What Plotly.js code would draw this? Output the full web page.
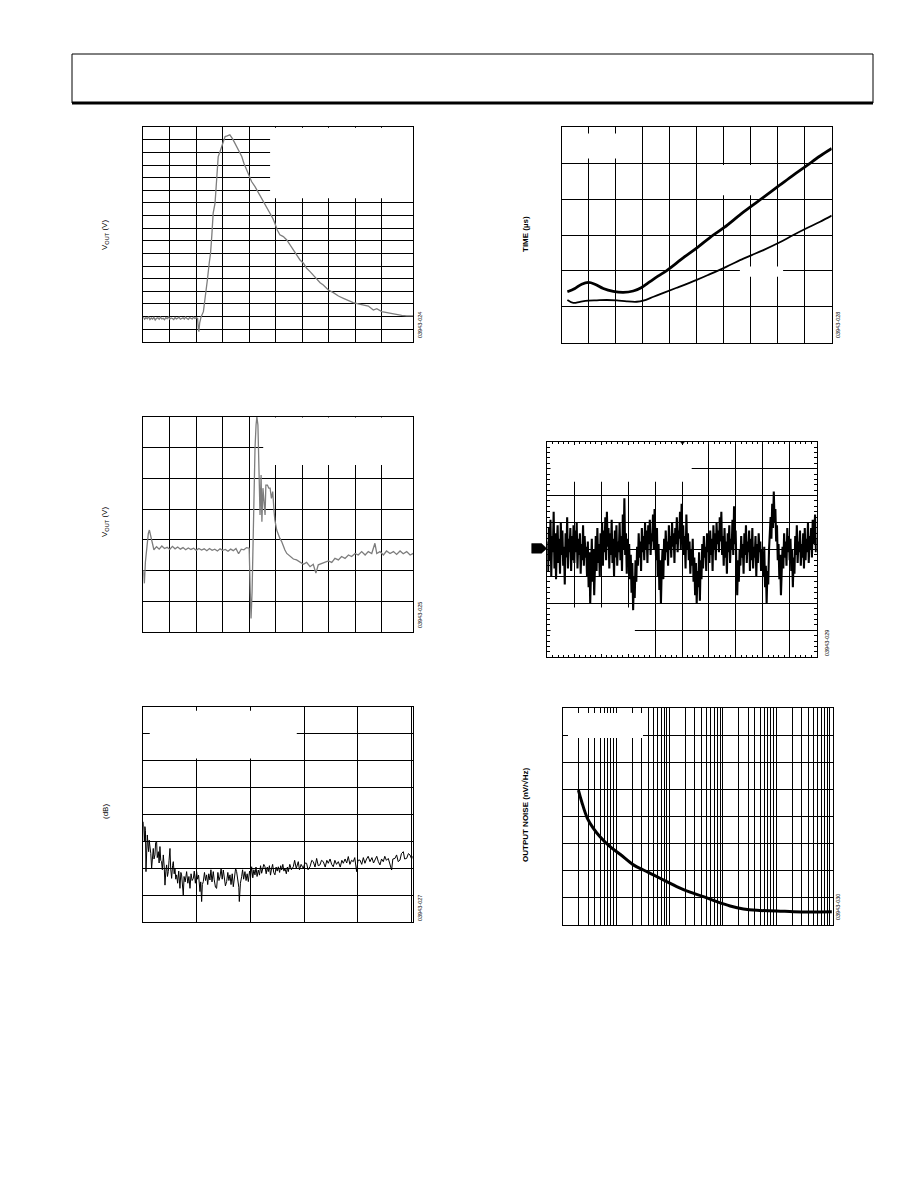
<!DOCTYPE html>
<html>
<head>
<meta charset="utf-8">
<script src="https://cdn.plot.ly/plotly-3.0.1.min.js"></script>
<style>html,body{margin:0;padding:0;background:#fff;}#chart{width:918px;height:1188px;}</style>
</head>
<body>
<div id="chart"></div>
<script>
// ---------- DATA ----------
// Chart A: VOUT transient (gray)
const aX = [0,0.05,0.1,0.15,0.2,0.25,0.3,0.35,0.4,0.45,0.5,0.55,0.6,0.65,0.7,0.75,0.8,0.85,0.9,0.95,1.0,1.05,1.1,1.15,1.2,1.25,1.3,1.35,1.4,1.45,1.5,1.55,1.6,1.65,1.7,1.75,1.8,1.85,1.9,1.95,2.0,
  2.05,2.08,2.1,2.13,2.18,2.27,2.37,2.42,2.49,2.54,2.59,2.64,2.71,2.77,2.83,2.90,3.00,3.09,3.17,3.27,3.38,3.46,3.59,3.72,3.80,3.90,4.00,4.09,4.22,4.35,4.47,4.56,4.66,4.79,4.89,4.97,5.06,5.16,5.29,5.42,5.54,5.67,5.79,5.92,6.05,6.17,6.30,6.42,6.55,6.68,6.80,6.99,7.18,7.37,7.56,7.75,7.93,8.12,8.31,8.50,8.69,8.82,9.01,9.19,9.38,9.57,9.76,9.95,10.2];
const aY = [1.95,1.78,1.9,1.82,1.98,1.75,1.88,1.8,1.93,1.72,1.85,1.9,1.78,1.95,1.8,1.86,1.74,1.9,1.83,1.97,1.79,1.88,1.84,1.76,1.92,1.81,1.87,1.94,1.78,1.85,1.9,1.8,1.96,1.83,1.77,1.91,1.86,1.8,1.94,1.85,1.9,
  1.85,1.0,0.8,1.5,1.95,2.38,3.84,4.89,6.22,7.01,8.47,10.19,10.98,12.57,14.68,15.08,15.74,16.27,16.32,16.40,16.06,15.74,15.21,14.68,14.15,13.62,13.23,12.70,12.30,11.82,11.38,10.98,10.58,10.13,9.79,9.39,8.86,8.47,8.33,8.07,7.67,7.28,6.88,6.48,6.22,5.82,5.56,5.29,4.95,4.68,4.50,4.10,3.89,3.62,3.44,3.25,3.10,2.99,2.88,2.83,2.51,2.62,2.38,2.30,2.25,2.14,2.09,2.04,2.04];

// Chart B: VOUT transient with glitch (gray)
const bX = [0,0.04,0.08,0.13,0.19,0.23,0.28,0.33,0.38,
  0.4,0.5,0.6,0.7,0.8,0.9,1.0,1.1,1.2,1.3,1.4,1.5,1.6,1.7,1.8,1.9,2.0,2.1,2.2,2.3,2.4,2.5,2.6,2.7,2.8,2.9,3.0,3.1,3.2,3.3,3.4,3.5,3.6,3.7,3.8,3.9,
  4.0,4.04,4.07,4.11,4.14,4.18,4.22,4.26,4.29,4.33,4.37,4.41,4.45,4.48,4.52,4.56,4.60,4.63,4.69,4.74,4.79,4.84,4.89,4.94,4.97,5.04,5.10,5.16,5.23,5.29,5.35,5.42,5.54,5.67,5.79,5.92,6.05,6.17,6.30,6.42,6.52,6.61,6.74,6.86,6.99,7.12,7.24,7.37,7.49,7.62,7.75,7.87,8.0,8.12,8.25,8.38,8.50,8.63,8.75,8.82,8.94,9.07,9.19,9.32,9.45,9.57,9.70,9.82,9.95,10.08,10.2];
const bY = [2.02,1.59,2.29,2.84,3.21,3.32,3.11,2.89,2.73,
  2.68,2.78,2.70,2.80,2.72,2.76,2.69,2.79,2.71,2.77,2.70,2.75,2.68,2.74,2.69,2.73,2.66,2.72,2.67,2.71,2.65,2.72,2.66,2.70,2.64,2.71,2.66,2.69,2.63,2.70,2.65,2.72,2.55,2.70,2.68,2.75,
  2.73,1.32,0.45,1.32,2.84,4.68,5.97,6.73,7.0,6.73,5.54,3.81,5.11,3.59,4.68,4.13,3.81,4.78,4.78,4.68,4.68,4.35,4.57,3.92,3.65,3.32,3.16,3.05,2.94,2.78,2.67,2.56,2.46,2.38,2.35,2.29,2.21,2.27,2.13,2.21,1.92,2.19,2.24,2.29,2.32,2.27,2.40,2.35,2.46,2.40,2.51,2.46,2.56,2.51,2.62,2.51,2.62,2.56,2.89,2.56,2.62,2.51,2.64,2.56,2.62,2.53,2.64,2.55,2.62,2.51,2.56];

// Chart C: (dB) vs frequency (black)
const cX = [0,0.01,0.02,0.03,0.04,0.05,0.06,0.075,0.09,0.10,0.11,0.124,0.14,0.155,0.17,0.186,0.20,0.217,0.23,0.248,0.26,0.28,0.295,0.31,0.325,0.34,0.355,0.373,0.39,0.404,0.42,0.435,0.45,0.466,0.48,0.497,0.51,0.528,0.545,0.559,0.575,0.59,0.605,0.621,0.64,0.66,0.683,0.70,0.714,0.73,0.745,0.76,0.78,0.807,0.83,0.85,0.87,0.89,0.91,0.932,0.95,0.97,0.994,1.01,1.03,1.056,1.07,1.087,1.10,1.118,1.14,1.16,1.18,1.20,1.22,1.242,1.26,1.28,1.304,1.32,1.345,1.366,1.39,1.41,1.429,1.45,1.47,1.491,1.51,1.53,1.553,1.575,1.595,1.615,1.635,1.657,1.677,1.70,1.72,1.739,1.76,1.78,1.789,1.81,1.832,1.85,1.87,1.894,1.915,1.935,1.957,1.98,2.00,2.019,2.04,2.06,2.081,2.10,2.12,2.143,2.165,2.185,2.205,2.225,2.245,2.267,2.29,2.31,2.329,2.35,2.37,2.391,2.41,2.43,2.453,2.475,2.495,2.516,2.54,2.56,2.578,2.60,2.62,2.64,2.665,2.685,2.702,2.73,2.76,2.795,2.82,2.85,2.888,2.91,2.94,2.981,3.01,3.043,3.07,3.106,3.14,3.168,3.20,3.23,3.26,3.292,3.32,3.354,3.39,3.42,3.447,3.48,3.51,3.54,3.57,3.60,3.634,3.67,3.70,3.727,3.76,3.79,3.82,3.85,3.88,3.913,3.94,3.975,4.00,4.037,4.07,4.10,4.13,4.16,4.19,4.224,4.26,4.29,4.317,4.35,4.38,4.41,4.44,4.472,4.50,4.53,4.565,4.59,4.627,4.65,4.689,4.72,4.75,4.783,4.81,4.845,4.87,4.907,4.94,4.969,5.00,5.02];
const cY = [3.73,3.30,2.99,3.55,3.40,1.88,3.10,3.24,2.80,2.62,3.05,2.81,2.55,2.00,2.60,2.74,2.35,2.50,2.95,2.99,2.40,2.62,2.20,2.81,2.30,2.25,1.95,2.50,2.05,1.38,1.90,2.13,1.70,1.88,2.30,2.74,2.00,1.63,2.10,2.25,1.80,2.00,1.60,1.76,1.45,1.90,1.26,1.85,1.76,1.40,1.01,1.70,1.50,1.88,1.45,1.70,1.26,1.80,1.55,1.63,1.90,1.45,1.88,1.60,1.75,1.14,1.50,0.77,1.40,1.51,1.85,1.55,1.76,1.40,1.80,1.57,1.95,1.50,1.88,1.60,1.30,1.26,1.85,1.55,1.69,2.00,1.60,1.94,1.70,1.35,1.51,1.85,1.55,1.76,1.40,1.80,1.32,1.75,2.00,1.88,1.50,1.30,0.77,1.45,1.69,1.95,1.60,1.88,1.55,1.80,1.51,1.90,1.70,2.06,1.65,1.95,1.76,2.05,1.70,1.94,1.75,2.10,1.82,1.95,2.15,2.06,1.80,2.05,1.88,2.10,1.75,2.00,2.15,1.85,1.76,2.05,1.90,2.06,1.85,2.10,1.94,2.15,1.90,2.00,1.80,2.05,1.88,2.15,1.95,2.06,2.30,2.00,2.25,1.95,2.15,2.00,2.20,2.19,1.95,2.06,2.30,2.25,2.05,2.37,2.10,2.13,2.30,2.25,2.05,2.30,2.19,2.35,2.15,2.06,2.30,2.15,2.25,2.05,2.30,2.19,2.35,2.20,2.44,2.15,2.30,2.25,2.40,1.88,2.30,2.31,2.15,2.40,2.19,2.35,2.45,2.25,2.40,2.20,2.31,2.45,2.25,2.13,2.35,2.25,2.45,2.30,2.37,2.20,1.94,2.35,2.37,2.50,2.25,2.31,2.55,2.62,2.35,2.37,2.55,2.50,2.35,2.45];

// Chart D: TIME (µs) — two curves
const dTopX = [0.21,0.49,0.74,0.99,1.23,1.54,1.91,2.28,2.65,2.96,3.27,3.58,3.89,4.51,5.02,5.49,6.02,6.60,7.04,7.47,8.06,8.58,9.05,9.57,10.0];
const dTopY = [1.42,1.51,1.63,1.68,1.63,1.51,1.43,1.40,1.44,1.54,1.70,1.86,2.01,2.37,2.65,2.93,3.21,3.56,3.81,4.05,4.38,4.67,4.92,5.20,5.41];
const dLowX = [0.21,0.43,0.68,0.99,1.30,1.67,2.04,2.41,2.78,3.02,3.40,3.77,4.26,5.00,5.49,6.11,6.73,7.04,7.47,8.06,8.58,9.05,9.57,10.0];
const dLowY = [1.19,1.11,1.14,1.17,1.18,1.19,1.18,1.15,1.14,1.17,1.28,1.39,1.53,1.75,1.91,2.12,2.34,2.44,2.58,2.79,3.00,3.18,3.37,3.54];

// Chart E: noise (divisions), evenly sampled over 10 horizontal divisions
const eY = [
4.3,3.2,4.8,3.6,5.1,3.0,4.5,3.9,5.4,3.3,4.6,2.9,4.2,4.9,3.5,4.4,3.1,5.0,3.8,4.7,3.4,4.1,2.7,4.6,3.7,5.2,3.3,4.4,3.9,4.8,3.2,4.5,3.6,4.9,
3.5,4.7,3.9,5.0,3.3,4.4,3.8,4.6,3.1,4.2,3.6,4.9,3.4,4.5,3.7,4.1,3.0,4.3,2.6,3.9,2.0,3.6,4.4,2.8,4.0,2.3,3.7,4.5,3.2,4.8,3.5,4.2,3.0,4.6,
3.8,5.0,3.4,4.7,3.9,5.2,3.6,5.4,4.1,4.8,3.3,4.6,3.8,5.1,3.5,4.4,3.0,4.7,3.7,4.9,3.4,4.3,3.9,5.0,3.6,4.5,3.2,5.3,4.0,5.9,3.8,4.6,3.1,4.4,
3.5,4.2,2.9,3.8,2.4,3.5,1.75,3.0,2.2,3.6,2.8,4.1,3.4,4.6,3.7,4.3,3.2,4.8,3.9,4.5,3.6,5.0,4.0,4.7,3.5,4.9,4.2,5.1,3.8,4.6,4.3,5.3,4.0,5.5,
4.4,3.6,4.8,3.0,4.2,2.5,3.6,2.0,3.3,4.0,2.9,4.4,3.6,4.7,3.9,4.3,3.4,4.9,4.0,4.5,3.7,5.0,4.1,4.6,3.5,4.8,4.2,5.2,3.9,4.7,4.4,5.4,4.0,5.7,
4.2,4.9,3.8,4.5,3.3,5.3,4.0,4.6,3.6,4.3,3.1,4.0,3.4,4.4,2.8,3.7,2.3,3.5,2.0,3.2,2.6,3.9,2.1,3.6,2.9,4.2,3.3,4.5,3.7,4.1,3.2,4.6,3.9,4.3,
3.5,4.7,3.8,4.4,3.2,4.9,4.0,4.6,3.6,5.0,4.2,4.7,3.9,5.2,4.3,5.4,3.8,4.5,3.4,4.8,3.7,4.3,3.1,4.6,3.9,4.9,3.5,4.4,4.0,5.1,3.8,5.6,4.2,4.7,
3.3,2.3,3.6,2.8,4.0,3.4,4.5,3.7,4.2,3.1,4.6,3.8,4.9,3.5,4.3,3.9,4.7,3.2,4.4,3.6,4.8,3.3,4.1,3.7,4.5,3.0,4.2,3.5,4.6,3.9,4.3,3.2,4.0,3.6,
3.0,4.1,2.6,3.4,2.0,3.2,2.7,4.0,4.6,5.2,4.4,5.7,4.8,6.15,5.0,5.5,4.3,4.9,3.6,4.2,2.9,3.8,2.3,3.5,4.1,3.3,4.6,3.7,4.3,3.4,4.8,3.9,4.5,3.6,
4.4,3.2,4.0,2.6,3.7,3.1,4.5,3.8,4.9,3.5,4.3,3.9,4.7,3.4,4.2,3.7,4.6,3.3,4.8,3.6,4.4,3.9,5.0,3.5,4.5,4.0,4.8,3.7,5.1,4.2,4.6,5.3,3.9,4.4];
const eSpan = 10;

// Chart F: OUTPUT NOISE (nV/√Hz) vs frequency (log)
const fX = [1.97,2.27,2.90,3.76,5.01,7.72,11.9,21.1,32.5,50.1,89.1,137,244,434,772,1372,2441,4340,10290,21130,43400,110600];
const fY = [4.98,4.55,3.94,3.57,3.26,2.89,2.61,2.22,2.03,1.85,1.60,1.42,1.21,1.05,0.86,0.70,0.59,0.54,0.52,0.49,0.48,0.49];

// Grid/tick positions
const abXGrid = [1,2,3,4,5,6,7,8,9];

// Texts
const titleVout = "V<sub>OUT</sub> (V)";
const titleTime = "<b>TIME (µs)</b>";
const titleDb = "(dB)";
const titleNoise = "<b>OUTPUT NOISE (nV/√Hz)</b>";
const figIds = ["03943-024","03943-025","03943-027","03943-028","03943-029","03943-030"];

// ---------- LAYOUT ----------
const W = 918, H = 1188;
const PX = x => x / W, PY = y => 1 - y / H;
function dom(l, r, t, b) { return {x: [PX(l), PX(r)], y: [PY(b), PY(t)]}; }
const dA = dom(143.3, 413.3, 127.3, 341.7);
const dB = dom(143.3, 413.3, 416.7, 632.3);
const dC = dom(143.3, 412.7, 706.7, 922.3);
const dD = dom(561.7, 831.7, 127.3, 342.7);
const dE = dom(547.3, 816.7, 441.7, 657.3);
const dF = dom(562.7, 832.7, 708.3, 925.0);

function axis(domain, range, anchor, extra) {
  return Object.assign({
    domain: domain, range: range, anchor: anchor,
    showgrid: true, gridcolor: '#000', gridwidth: 1,
    showline: true, linecolor: '#000', linewidth: 1, mirror: true,
    zeroline: false, ticks: '', showticklabels: false, fixedrange: true
  }, extra || {});
}
const minorE = {dtick: 0.2, ticks: 'inside', ticklen: 2.5, tickcolor: '#000', tickwidth: 1, showgrid: false};

const gray = '#7d7d7d';
const traces = [
  {x: aX, y: aY, xaxis: 'x', yaxis: 'y', mode: 'lines', line: {color: gray, width: 1.3}},
  {x: bX, y: bY, xaxis: 'x2', yaxis: 'y2', mode: 'lines', line: {color: gray, width: 1.3}},
  {x: cX, y: cY, xaxis: 'x3', yaxis: 'y3', mode: 'lines', line: {color: '#000', width: 1}},
  {x: dTopX, y: dTopY, xaxis: 'x4', yaxis: 'y4', mode: 'lines', line: {color: '#000', width: 2.8, shape: 'spline'}},
  {x: dLowX, y: dLowY, xaxis: 'x4', yaxis: 'y4', mode: 'lines', line: {color: '#000', width: 1.8, shape: 'spline'}},
  {x: eY.map((v, i) => i * eSpan / (eY.length - 1)), y: eY, xaxis: 'x5', yaxis: 'y5', mode: 'lines', line: {color: '#000', width: 2.1}},
  {x: fX, y: fY, xaxis: 'x6', yaxis: 'y6', mode: 'lines', line: {color: '#000', width: 3, shape: 'spline'}}
];

const white = {type: 'rect', fillcolor: '#fff', line: {width: 0}, layer: 'between'};
function wbox(xr, yr, x0, x1, y0, y1) { return Object.assign({xref: xr, yref: yr, x0: x0, x1: x1, y0: y0, y1: y1}, white); }
const shapes = [
  wbox('x', 'y', 4.79, 10.19, 11.38, 16.97),
  wbox('x2', 'y2', 4.53, 10.19, 5.43, 6.97),
  wbox('x3', 'y3', 0.12, 2.86, 6.08, 7.85),
  wbox('x4', 'y4', 0.12, 2.9, 5.13, 5.83),
  wbox('x4', 'y4', 5.3, 7.96, 4.11, 4.95),
  wbox('x4', 'y4', 6.6, 8.2, 1.84, 2.12),
  wbox('x5', 'y5', 0.12, 5.36, 6.51, 7.88),
  wbox('x5', 'y5', 0.12, 3.25, 0.12, 1.85),
  // chart F label area (no trace there)
  {type: 'rect', xref: 'paper', yref: 'paper', x0: PX(568), x1: PX(643), y0: PY(738), y1: PY(713), fillcolor: '#fff', line: {width: 0}, layer: 'above'},
  // header frame
  {type: 'line', xref: 'paper', yref: 'paper', x0: PX(72), x1: PX(873), y0: PY(54), y1: PY(54), line: {color: '#000', width: 1}},
  {type: 'line', xref: 'paper', yref: 'paper', x0: PX(72), x1: PX(72), y0: PY(54), y1: PY(103), line: {color: '#000', width: 1}},
  {type: 'line', xref: 'paper', yref: 'paper', x0: PX(873), x1: PX(873), y0: PY(54), y1: PY(103), line: {color: '#000', width: 1}},
  {type: 'line', xref: 'paper', yref: 'paper', x0: PX(72), x1: PX(873), y0: PY(103), y1: PY(103), line: {color: '#000', width: 3}},
  // ground-reference arrow of chart E
  {type: 'path', xref: 'paper', yref: 'paper', fillcolor: '#000', line: {color: '#000', width: 0.5}, layer: 'above',
   path: `M ${PX(531.7)},${PY(543.6)} L ${PX(541.5)},${PY(543.6)} L ${PX(546.8)},${PY(548.4)} L ${PX(541.5)},${PY(553.2)} L ${PX(531.7)},${PY(553.2)} Z`},
  // trigger marker at top of chart E
  {type: 'path', xref: 'paper', yref: 'paper', fillcolor: '#000', line: {color: '#000', width: 0.5}, layer: 'above',
   path: `M ${PX(680.5)},${PY(441.7)} L ${PX(684.5)},${PY(441.7)} L ${PX(682.5)},${PY(444.5)} Z`}
];

const font = {family: 'Liberation Sans, Arial, sans-serif', size: 8, color: '#000'};
function ylab(text, x, y) { return {text: text, xref: 'paper', yref: 'paper', x: PX(x), y: PY(y), showarrow: false, textangle: -90, font: font, xanchor: 'center', yanchor: 'middle'}; }
function idlab(text, x, y) { return {text: text, xref: 'paper', yref: 'paper', x: PX(x), y: PY(y), showarrow: false, textangle: -90, font: {family: font.family, size: 5.5, color: '#000'}, xanchor: 'center', yanchor: 'middle'}; }
const annotations = [
  ylab(titleVout, 105, 235),
  ylab(titleVout, 105, 522),
  ylab(titleDb, 105, 812),
  ylab(titleTime, 525, 234),
  ylab(titleNoise, 525, 815),
  idlab(figIds[0], 420, 325),
  idlab(figIds[1], 420, 615),
  idlab(figIds[2], 420, 908),
  idlab(figIds[3], 838, 325),
  idlab(figIds[4], 827, 643),
  idlab(figIds[5], 838, 907)
];

const layout = {
  width: W, height: H, margin: {l: 0, r: 0, t: 0, b: 0},
  paper_bgcolor: '#fff', plot_bgcolor: '#fff', showlegend: false,
  xaxis:  axis(dA.x, [0, 10.2], 'y',  {tickmode: 'array', tickvals: abXGrid}),
  yaxis:  axis(dA.y, [0, 17], 'x',   {dtick: 1, tick0: 0}),
  xaxis2: axis(dB.x, [0, 10.2], 'y2', {tickmode: 'array', tickvals: abXGrid}),
  yaxis2: axis(dB.y, [0, 7], 'x2',   {dtick: 1, tick0: 0}),
  xaxis3: axis(dC.x, [0, 5.02], 'y3', {dtick: 1, tick0: 0}),
  yaxis3: axis(dC.y, [0, 8], 'x3',   {dtick: 1, tick0: 0}),
  xaxis4: axis(dD.x, [0, 10], 'y4',  {dtick: 1, tick0: 0}),
  yaxis4: axis(dD.y, [0, 6], 'x4',   {dtick: 1, tick0: 0}),
  xaxis5: axis(dE.x, [0, 10], 'y5',  {dtick: 1, tick0: 0, ticks: 'inside', ticklen: 2.5, tickcolor: '#000', mirror: 'allticks', minor: minorE}),
  yaxis5: axis(dE.y, [0, 8], 'x5',   {dtick: 1, tick0: 0, ticks: 'inside', ticklen: 2.5, tickcolor: '#000', mirror: 'allticks', minor: minorE}),
  xaxis6: axis(dF.x, [0, 5.06], 'y6', {type: 'log', dtick: 'D1'}),
  yaxis6: axis(dF.y, [0, 8], 'x6',   {dtick: 1, tick0: 0}),
  shapes: shapes,
  annotations: annotations,
  font: font
};

Plotly.newPlot('chart', traces, layout, {staticPlot: true, displayModeBar: false});
</script>
</body>
</html>
